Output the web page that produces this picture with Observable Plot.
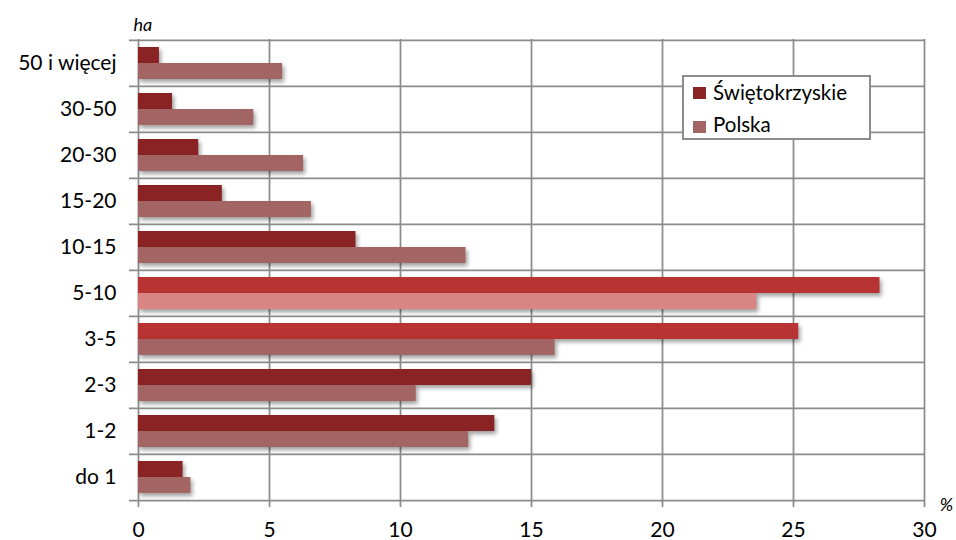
<!DOCTYPE html>
<html><head><meta charset="utf-8">
<script src="https://cdn.jsdelivr.net/npm/d3@7"></script>
<script src="https://cdn.jsdelivr.net/npm/@observablehq/plot@0.6"></script>
<style>
body{margin:0;background:#fff;font-family:Lato,"Open Sans",sans-serif;}
#wrap{position:relative;width:956px;height:540px;overflow:hidden;}
#chart svg g[aria-label="bar"]{filter:drop-shadow(2px 3px 2px rgba(0,0,0,0.38));}
.legend{position:absolute;left:682px;top:75px;width:185px;height:61px;border:2px solid #8c8c8c;background:#fff;}
.legend .sw{position:absolute;width:13px;height:12px;left:9px;}
.legend .lb{position:absolute;left:29px;font-size:20.5px;line-height:24px;color:#000;white-space:nowrap;}
</style>
</head><body>
<div id="wrap"><div id="chart"></div><div class="legend" id="legend"></div></div>
<script>
const categories = ["50 i więcej","30-50","20-30","15-20","10-15","5-10","3-5","2-3","1-2","do 1"];
const swietokrzyskie = [0.8, 1.3, 2.3, 3.2, 8.3, 28.3, 25.2, 15.0, 13.6, 1.7];
const polska = [5.5, 4.4, 6.3, 6.6, 12.5, 23.6, 15.9, 10.6, 12.6, 2.0];
const seriesNames = ["Świętokrzyskie", "Polska"];
const xTicks = [0, 5, 10, 15, 20, 25, 30];
const highlightSw = ["5-10", "3-5"];
const highlightPl = ["5-10"];
const yLabel = "ha";
const xLabel = "%";

const colors = {sw: "#8a2424", swHi: "#b83432", pl: "#a36563", plHi: "#d98583"};
const gridColor = "#8c8c8c";

const W = 956, H = 540, mt = 39, mb = 40, ml = 138, mr = 32;
const bw = (H - mt - mb) / categories.length;

const rows = categories.map((c, i) => ({cat: c, sw: swietokrzyskie[i], pl: polska[i]}));

const chart = Plot.plot({
  width: W, height: H,
  marginTop: mt, marginBottom: mb, marginLeft: ml, marginRight: mr,
  style: {fontFamily: "Lato, 'Open Sans', sans-serif", fontSize: "21px", color: "#000", background: "#fff", overflow: "visible"},
  x: {domain: [0, 30], ticks: xTicks, tickSize: 0, tickPadding: 22, label: null},
  y: {domain: categories, padding: 0, tickSize: 0, tickPadding: 22, label: null},
  color: {type: "identity"},
  marks: [
    Plot.ruleY(categories, {y: d => d, dy: -bw / 2, stroke: gridColor, strokeWidth: 1.75, insetLeft: -9}),
    Plot.ruleY(categories.slice(-1), {y: d => d, dy: bw / 2, stroke: gridColor, strokeWidth: 1.75, insetLeft: -9}),
    Plot.ruleX(xTicks, {x: d => d, stroke: gridColor, strokeWidth: 1.75, insetBottom: -7}),
    Plot.barX(rows, {y: "cat", x: "sw", fill: d => highlightSw.includes(d.cat) ? colors.swHi : colors.sw, insetTop: 7, insetBottom: 23}),
    Plot.barX(rows, {y: "cat", x: "pl", fill: d => highlightPl.includes(d.cat) ? colors.plHi : colors.pl, insetTop: 23, insetBottom: 7}),
    Plot.text([yLabel], {frameAnchor: "top-left", text: d => d, textAnchor: "start", lineAnchor: "middle", dx: -5, dy: -14, fontStyle: "italic", fontSize: 18, fill: "#000"}),
    Plot.text([xLabel], {frameAnchor: "bottom-right", text: d => d, textAnchor: "middle", lineAnchor: "middle", dx: 22, dy: 5, fontStyle: "italic", fontSize: 18, fill: "#000"})
  ]
});
document.getElementById("chart").appendChild(chart);

const legend = document.getElementById("legend");
const legendColors = [colors.sw, colors.pl];
seriesNames.forEach((name, i) => {
  const sq = document.createElement("div");
  sq.className = "sw";
  sq.style.top = (10 + i * 34) + "px";
  sq.style.background = legendColors[i];
  legend.appendChild(sq);
  const lb = document.createElement("div");
  lb.className = "lb";
  lb.style.top = (3 + i * 32) + "px";
  lb.textContent = name;
  legend.appendChild(lb);
});
</script>
</body></html>
